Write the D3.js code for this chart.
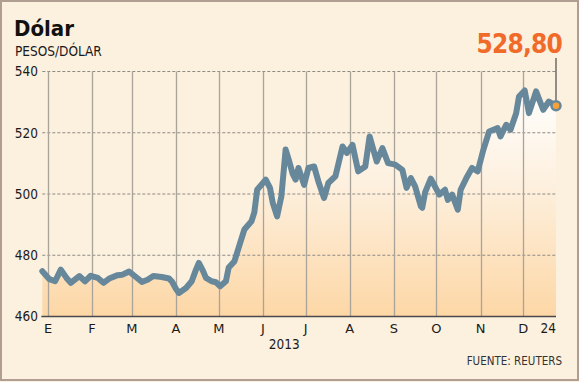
<!DOCTYPE html>
<html lang="es">
<head>
    <meta charset="UTF-8">
    <title>Dólar</title>
    <script src="https://cdn.jsdelivr.net/npm/d3@7"></script>
    <style>
        body {
            margin: 0;
            padding: 0;
            background-color: #fcf0df;
        }

        svg text {
            font-family: 'DejaVu Sans Condensed', 'DejaVu Sans', sans-serif;
        }
    </style>
</head>
<body>
    <svg id="chart" width="579" height="382"></svg>

    <script>
        // Data (pesos por dólar, 2013)
        const dates = [
            "2012-12-28", "2013-01-02", "2013-01-06", "2013-01-10", "2013-01-14", "2013-01-17",
            "2013-01-23", "2013-01-27", "2013-01-31", "2013-02-05", "2013-02-09", "2013-02-13",
            "2013-02-19", "2013-02-22", "2013-02-27", "2013-03-04", "2013-03-08", "2013-03-12",
            "2013-03-16", "2013-03-22", "2013-03-27", "2013-03-29", "2013-04-01", "2013-04-03",
            "2013-04-08", "2013-04-12", "2013-04-15", "2013-04-17", "2013-04-20", "2013-04-22",
            "2013-04-26", "2013-04-29", "2013-05-02", "2013-05-06", "2013-05-08", "2013-05-12",
            "2013-05-15", "2013-05-19", "2013-05-24", "2013-05-26", "2013-05-28", "2013-06-03",
            "2013-06-06", "2013-06-08", "2013-06-11", "2013-06-14", "2013-06-17", "2013-06-19",
            "2013-06-22", "2013-06-24", "2013-06-26", "2013-06-30", "2013-07-03", "2013-07-07",
            "2013-07-10", "2013-07-14", "2013-07-17", "2013-07-22", "2013-07-27", "2013-07-30",
            "2013-08-03", "2013-08-07", "2013-08-12", "2013-08-15", "2013-08-20", "2013-08-24",
            "2013-08-28", "2013-09-02", "2013-09-07", "2013-09-10", "2013-09-13", "2013-09-16",
            "2013-09-20", "2013-09-21", "2013-09-23", "2013-09-27", "2013-10-03", "2013-10-07",
            "2013-10-09", "2013-10-12", "2013-10-16", "2013-10-18", "2013-10-22", "2013-10-26",
            "2013-10-30", "2013-11-03", "2013-11-07", "2013-11-13", "2013-11-15", "2013-11-19",
            "2013-11-22", "2013-11-26", "2013-11-28", "2013-12-02", "2013-12-05", "2013-12-10",
            "2013-12-15", "2013-12-19", "2013-12-24"
        ];
        const values = [
            474.8, 472.2, 471.5, 475.3, 472.6, 471.0,
            473.2, 471.5, 473.3, 472.6, 471.0, 472.4,
            473.5, 473.6, 474.7, 472.8, 471.3, 472.0,
            473.2, 472.9, 472.4, 471.5, 469.0, 467.7,
            469.3, 471.5, 475.3, 477.5, 474.8, 472.6,
            471.5, 471.2, 469.9, 471.5, 476.0, 478.0,
            482.5, 488.4, 491.1, 494.0, 501.4, 504.7,
            502.0, 497.0, 492.7, 499.2, 514.5, 511.5,
            506.5, 504.7, 508.5, 503.0, 508.5, 509.0,
            504.1, 498.7, 503.6, 505.8, 515.5, 513.4,
            516.0, 507.4, 509.0, 518.8, 510.6, 515.0,
            510.1, 509.6, 507.9, 502.0, 505.2, 502.5,
            496.0, 495.5, 500.5, 505.0, 499.8, 501.4,
            498.1, 499.8, 494.9, 501.4, 505.2, 508.5,
            507.4, 514.5, 520.4, 521.5, 518.8, 522.6,
            521.0, 526.4, 531.8, 533.8, 526.4, 533.5,
            527.5, 530.2, 528.8
        ];

        const monthLabels = ["E", "F", "M", "A", "M", "J", "J", "A", "S", "O", "N", "D"];
        const yTicks = [460, 480, 500, 520, 540];
        const lastLabel = "528,80";
        const endLabel = "24";
        const yearLabel = "2013";

        const parse = d3.timeParse("%Y-%m-%d");
        const data = dates.map((d, i) => ({ date: parse(d), value: values[i] }));
        const last = data[data.length - 1];

        const svg = d3.select("#chart");

        const x = d3.scaleTime()
            .domain([new Date(2013, 0, 1), last.date])
            .range([48, 556]);
        const y = d3.scaleLinear()
            .domain([460, 540])
            .range([316.5, 71.5]);

        const x0 = x(data[0].date);
        const x1 = x(last.date);

        // background + frame
        svg.append("rect")
            .attr("x", 1).attr("y", 1)
            .attr("width", 577).attr("height", 379)
            .attr("fill", "#fcf0df")
            .attr("stroke", "#b09e92")
            .attr("stroke-width", 2);

        // gradient under the line
        const grad = svg.append("defs").append("linearGradient")
            .attr("id", "fade")
            .attr("gradientUnits", "userSpaceOnUse")
            .attr("x1", 0).attr("x2", 0)
            .attr("y1", y(535)).attr("y2", y(460));
        grad.append("stop").attr("offset", "0%").attr("stop-color", "#ffffff");
        grad.append("stop").attr("offset", "45%").attr("stop-color", "#fdefdc");
        grad.append("stop").attr("offset", "100%").attr("stop-color", "#fdd7a6");

        const area = d3.area()
            .x(d => x(d.date))
            .y0(y(460))
            .y1(d => y(d.value));

        svg.append("path")
            .datum(data)
            .attr("fill", "url(#fade)")
            .attr("d", area);

        // horizontal dashed grid
        svg.append("g")
            .selectAll("line")
            .data(yTicks.filter(v => v > 460))
            .enter().append("line")
            .attr("x1", x0).attr("x2", x1)
            .attr("y1", d => y(d)).attr("y2", d => y(d))
            .attr("stroke", "#8f8a84")
            .attr("stroke-width", 1)
            .attr("stroke-dasharray", "3,2");

        // month lines
        const monthStarts = d3.timeMonth.range(new Date(2013, 0, 1), new Date(2013, 11, 2));
        svg.append("g")
            .selectAll("line")
            .data(monthStarts)
            .enter().append("line")
            .attr("x1", d => Math.round(x(d)) + 0.5).attr("x2", d => Math.round(x(d)) + 0.5)
            .attr("y1", y(540)).attr("y2", y(460))
            .attr("stroke", "#aaa39a")
            .attr("stroke-width", 1.3);

        // bottom axis line
        svg.append("line")
            .attr("x1", x0 - 1).attr("x2", x1)
            .attr("y1", y(460)).attr("y2", y(460))
            .attr("stroke", "#4a4a4a")
            .attr("stroke-width", 1.6);

        // y labels
        svg.append("g")
            .selectAll("text")
            .data(yTicks)
            .enter().append("text")
            .attr("x", 38)
            .attr("y", d => y(d))
            .attr("dy", "0.36em")
            .attr("text-anchor", "end")
            .style("font-size", "13.5px")
            .style("fill", "#1a1a1a")
            .text(d => d);

        // month labels
        svg.append("g")
            .selectAll("text")
            .data(monthStarts)
            .enter().append("text")
            .attr("x", d => x(d))
            .attr("y", 333)
            .attr("text-anchor", "middle")
            .style("font-family", "'DejaVu Sans', sans-serif")
            .style("font-size", "13px")
            .style("fill", "#1a1a1a")
            .text((d, i) => monthLabels[i]);

        svg.append("text")
            .attr("x", x1)
            .attr("y", 333)
            .attr("text-anchor", "end")
            .style("font-size", "13.5px")
            .style("fill", "#1a1a1a")
            .text(endLabel);

        svg.append("text")
            .attr("x", (x(new Date(2013, 5, 1)) + x(new Date(2013, 6, 1))) / 2)
            .attr("y", 349)
            .attr("text-anchor", "middle")
            .style("font-size", "13.5px")
            .style("fill", "#1a1a1a")
            .text(yearLabel);

        // the line
        const line = d3.line()
            .x(d => x(d.date))
            .y(d => y(d.value));

        svg.append("path")
            .datum(data)
            .attr("fill", "none")
            .attr("stroke", "#67879b")
            .attr("stroke-width", 6)
            .attr("stroke-linejoin", "round")
            .attr("stroke-linecap", "round")
            .attr("d", line);

        // pointer to the last value
        svg.append("line")
            .attr("x1", x1).attr("x2", x1)
            .attr("y1", 58).attr("y2", y(last.value) - 5)
            .attr("stroke", "#4a4a4a")
            .attr("stroke-width", 1.2);

        svg.append("circle")
            .attr("cx", x1)
            .attr("cy", y(last.value))
            .attr("r", 4.5)
            .attr("fill", "#f6a236")
            .attr("stroke", "#67879b")
            .attr("stroke-width", 2.5);

        svg.append("text")
            .attr("x", 562)
            .attr("y", 53)
            .attr("text-anchor", "end")
            .style("font-size", "26px")
            .style("font-weight", "bold")
            .style("letter-spacing", "-0.8px")
            .style("fill", "#f06b2a")
            .text(lastLabel);

        // titles
        svg.append("text")
            .attr("x", 14)
            .attr("y", 36)
            .style("font-size", "22px")
            .style("font-weight", "bold")
            .style("fill", "#111")
            .text("Dólar");

        svg.append("text")
            .attr("x", 15)
            .attr("y", 56)
            .style("font-size", "13.5px")
            .style("fill", "#1a1a1a")
            .text("PESOS/DÓLAR");

        svg.append("text")
            .attr("x", 562)
            .attr("y", 365)
            .attr("text-anchor", "end")
            .style("font-size", "11.5px")
            .style("fill", "#333")
            .text("FUENTE: REUTERS");
    </script>
</body>
</html>
